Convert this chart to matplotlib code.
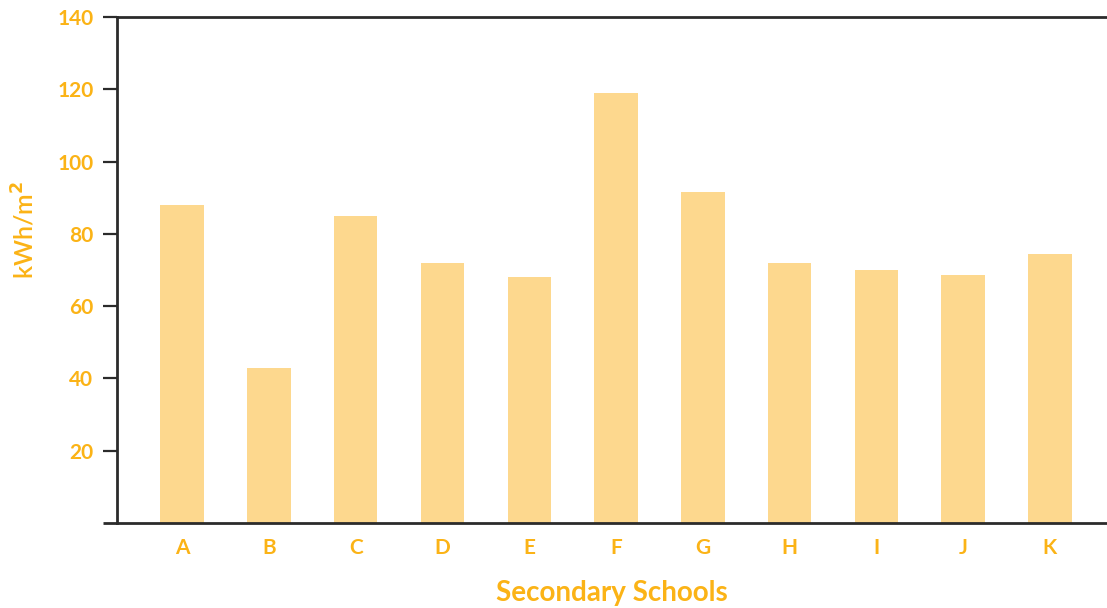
import matplotlib
matplotlib.use("Agg")
from matplotlib import pyplot as plt

schools = ["A", "B", "C", "D", "E", "F", "G", "H", "I", "J", "K"]
kwh_m2 = [88, 43, 85, 72, 68, 119, 91.5, 72, 70, 68.7, 74.5]
y_ticks = [20, 40, 60, 80, 100, 120, 140]

ORANGE = "#FBB316"
BAR = "#FDD88E"
AXIS = "#2b2b2b"

plt.rcParams["font.family"] = ["Lato", "DejaVu Sans"]

fig = plt.figure(figsize=(11.07, 6.08), dpi=100)
ax = fig.add_axes([117 / 1107, 85 / 608, 990 / 1107, 506 / 608])

ax.bar(range(len(schools)), kwh_m2, width=0.5, color=BAR, zorder=2)

ax.set_xlim(-0.75, 10.657)
ax.set_ylim(0, 140)
ax.set_yticks(y_ticks)
ax.set_xticks(range(len(schools)))
ax.set_xticklabels(schools)

for side in ("left", "bottom", "top"):
    ax.spines[side].set_color(AXIS)
    ax.spines[side].set_linewidth(2)
ax.spines["right"].set_visible(False)

ax.tick_params(axis="y", length=10, width=1.6, color=AXIS, pad=7,
               labelsize=15, labelcolor=ORANGE)
ax.tick_params(axis="x", length=0, pad=11, labelsize=15, labelcolor=ORANGE)
for lbl in ax.get_xticklabels() + ax.get_yticklabels():
    lbl.set_fontweight("bold")

# extend the baseline a little past the left spine
ax.plot([-0.75 - 14 / 86.8, -0.75], [0, 0], color=AXIS, lw=2,
        clip_on=False, solid_capstyle="butt")

ax.set_ylabel("kWh/m$^\\mathbf{2}$", color=ORANGE, fontsize=18, fontweight="semibold")
ax.yaxis.set_label_coords(-0.08, 0.58)
ax.set_xlabel("Secondary Schools", color=ORANGE, fontsize=20,
              fontweight="bold", labelpad=16)

fig.savefig("out.png", dpi=100)
